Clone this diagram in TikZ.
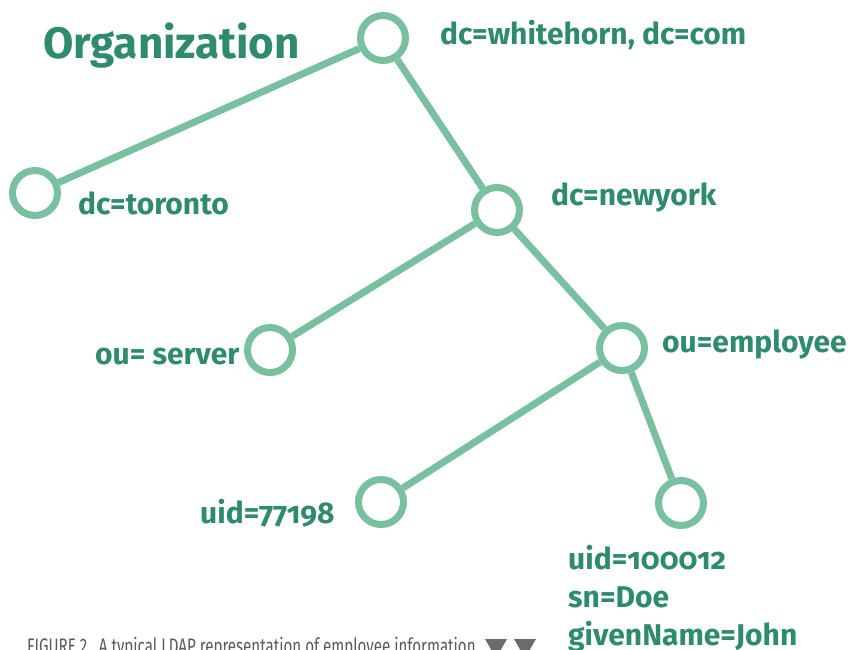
\documentclass[tikz,border=0pt]{standalone}
\usepackage{fontspec}
\setmainfont{Fira Sans}
\newfontfamily\labelfont[Numbers=OldStyle]{Fira Sans}
\newfontfamily\capfont[FakeStretch=0.72]{Fira Sans}
\usepackage{tikz}
\usetikzlibrary{positioning}
\usepackage{xcolor}
\definecolor{LdapLine}{RGB}{120,192,160}
\definecolor{LdapText}{RGB}{46,139,110}
\definecolor{CapGray}{RGB}{90,90,90}

\begin{document}
\begin{tikzpicture}[x=1pt,y=-1pt,
  entry/.style={circle,draw=LdapLine,line width=7pt,minimum size=45pt,inner sep=0pt},
  link/.style={line width=7pt,LdapLine},
  lbl/.style={anchor=base west,inner sep=0pt,text=LdapText,
              font=\labelfont\bfseries\fontsize{30}{38}\selectfont,align=left},
  captext/.style={anchor=base west,inner sep=0pt,text=CapGray,font=\capfont\fontsize{21}{24}\selectfont}
]
\useasboundingbox (0,0) rectangle (850,649);
% tree entries
\node[entry] (root) at (383,38) {};
\node[entry] (toronto) at (35,193) {};
\node[entry] (newyork) at (497,210) {};
\node[entry] (server) at (270,350) {};
\node[entry] (employee) at (622,348) {};
\node[entry] (uidA) at (381,502) {};
\node[entry] (uidB) at (681,503) {};
\draw[link] (root) -- (toronto);
\draw[link] (root) -- (newyork);
\draw[link] (newyork) -- (server);
\draw[link] (newyork) -- (employee);
\draw[link] (employee) -- (uidA);
\draw[link] (employee) -- (uidB);
% labels
\node[lbl,font=\labelfont\bfseries\fontsize{44}{48}\selectfont] (org) at (43,58) {Organization};
\node[lbl] (rootlbl) at (440,44) {dc=whitehorn, dc=com};
\node[lbl] (torontolbl) at (78,214) {dc=toronto};
\node[lbl] (newyorklbl) at (551,205) {dc=newyork};
\node[lbl] (serverlbl) at (95,364) {ou= server};
\node[lbl] (employeelbl) at (662,352) {ou=employee};
\node[lbl] (uidAlbl) at (200,523) {uid=77198};
\node[lbl] (uidBlbl) at (568,645) {uid=100012\\sn=Doe\\givenName=John};
% caption
\node[captext] (caption) at (27,653) {FIGURE 2.\ \ A typical LDAP representation of employee information};
\fill[CapGray!90] (485,639) -- (507,639) -- (496,658) -- cycle;
\fill[CapGray!90] (514,639) -- (536,639) -- (525,658) -- cycle;
\end{tikzpicture}
\end{document}
